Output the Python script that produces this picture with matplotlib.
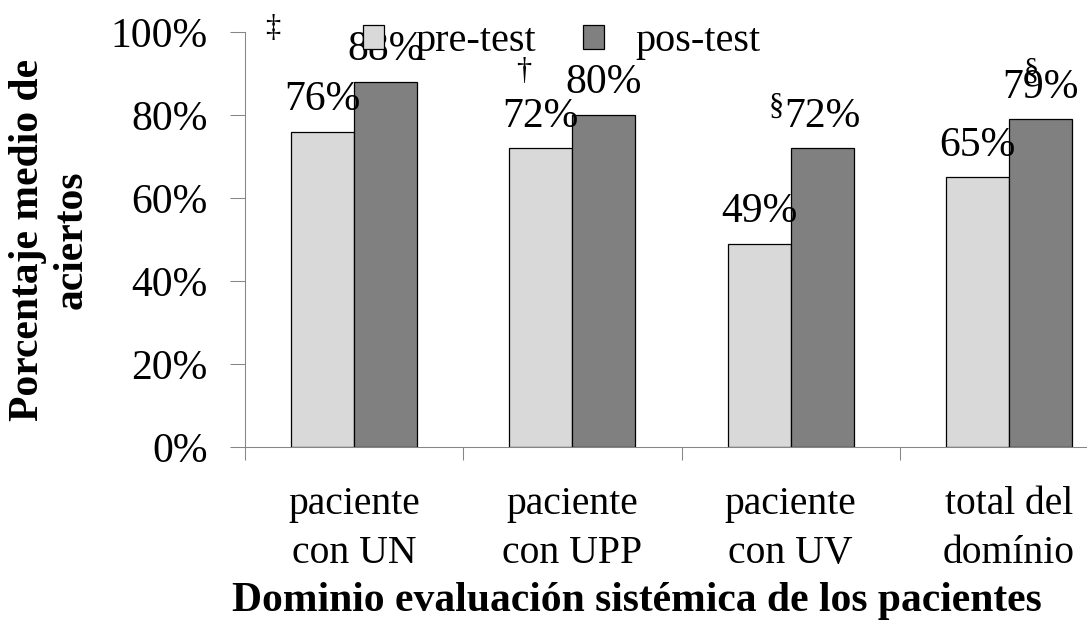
import numpy as np
import matplotlib
matplotlib.use('Agg')
import matplotlib.pyplot as plt
from matplotlib.ticker import FixedLocator, FuncFormatter

# ---- data ----
categories = ['paciente\ncon UN', 'paciente\ncon UPP', 'paciente\ncon UV', 'total del\ndomínio']
series_names = ['pre-test', 'pos-test']
pre_test = [76, 72, 49, 65]
pos_test = [88, 80, 72, 79]
symbols = ['‡', '†', '§', '§']
yticks = [0, 20, 40, 60, 80, 100]
ylabel = 'Porcentaje medio de\naciertos'
xlabel = 'Dominio evaluación sistémica de los pacientes'

plt.rcParams['font.family'] = ['Liberation Serif', 'DejaVu Serif']

W, H = 1087, 621
fig = plt.figure(figsize=(W / 100, H / 100), dpi=100)
ax = fig.add_axes([245 / W, (H - 447) / H, 873 / W, 415 / H])

x = np.arange(len(categories))
w = 0.289
light, dark, axis_gray = '#D9D9D9', '#808080', '#868686'

b1 = ax.bar(x - w / 2, pre_test, w, color=light, edgecolor='black', linewidth=0.9, zorder=2)
b2 = ax.bar(x + w / 2, pos_test, w, color=dark, edgecolor='black', linewidth=0.9, zorder=2)

for xs, vals in ((x - w / 2, pre_test), (x + w / 2, pos_test)):
    for xi, v in zip(xs, vals):
        ax.annotate(f'{v}%', (xi, v), xytext=(0, 15.5), textcoords='offset points',
                    ha='center', va='baseline', fontsize=30, zorder=3, annotation_clip=False)

# significance markers (layout offsets relative to group centre)
sym_offsets = [(-0.372, 100.8), (-0.221, 90.4), (-0.067, 81.9), (0.101, 90.4)]
for i, (s, (dx, yy)) in enumerate(zip(symbols, sym_offsets)):
    ax.text(x[i] + dx, yy, s, ha='center', va='center', fontsize=22, clip_on=False, zorder=3)

ax.set_xlim(-0.5, len(categories) - 0.5)
ax.set_ylim(0, 100)

ax.set_yticks(yticks)
ax.yaxis.set_major_formatter(FuncFormatter(lambda v, p: f'{v:.0f}%'))
ax.tick_params(axis='y', length=11, width=0.75, color=axis_gray, pad=16, labelsize=30, direction='out')

ax.xaxis.set_major_locator(FixedLocator(np.arange(-0.5, len(categories), 1.0)))
ax.xaxis.set_major_formatter(FuncFormatter(lambda v, p: ''))
ax.xaxis.set_minor_locator(FixedLocator(x))
ax.set_xticklabels(categories, minor=True, fontsize=28.5, linespacing=1.45)
ax.tick_params(axis='x', which='major', length=9.5, width=0.75, color=axis_gray, direction='out')
ax.tick_params(axis='x', which='minor', length=0, pad=28)

for sp in ('top', 'right'):
    ax.spines[sp].set_visible(False)
for sp in ('left', 'bottom'):
    ax.spines[sp].set_color(axis_gray)
    ax.spines[sp].set_linewidth(0.75)

leg = ax.legend([b1, b2], series_names, loc='center left',
                bbox_to_anchor=(363 / W, 1 - 42 / H), bbox_transform=fig.transFigure,
                ncol=2, frameon=False, fontsize=29, handlelength=0.52, handleheight=0.52,
                handletextpad=0.78, columnspacing=1.17, borderpad=0, borderaxespad=0)
leg.set_zorder(5)

fig.text(50 / W, 1 - 240 / H, ylabel, rotation=90, ha='center', va='center',
         fontsize=30, fontweight='bold', linespacing=1.2, multialignment='center')
fig.text(232 / W, (H - 611) / H, xlabel, ha='left', va='baseline',
         fontsize=30, fontweight='bold')

fig.savefig('out.png', dpi=100)
